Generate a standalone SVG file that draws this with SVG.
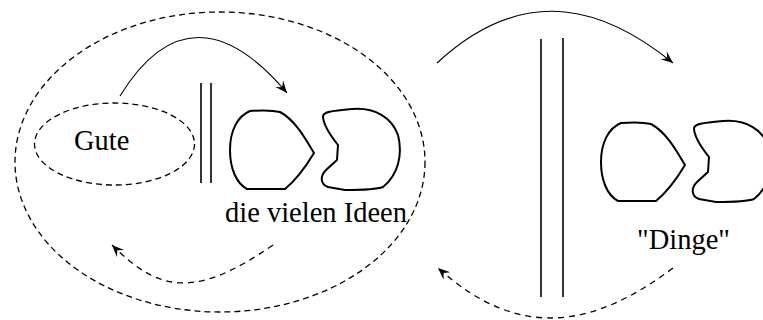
<svg xmlns="http://www.w3.org/2000/svg" width="763" height="320" viewBox="0 0 763 320">
<style>
.dash{fill:none;stroke:#000;stroke-width:1.3;stroke-dasharray:6 4}
.blob{fill:none;stroke:#000;stroke-width:2;stroke-linejoin:round}
.bar{stroke:#000;stroke-width:1.6}
.arc{fill:none;stroke:#000;stroke-width:1.1}
.darc{fill:none;stroke:#000;stroke-width:1.3;stroke-dasharray:6 5}
.lbl{font-family:"Liberation Serif","Times New Roman",serif;font-size:28.5px;fill:#000}
</style>
<defs>
<marker id="ah" markerUnits="userSpaceOnUse" markerWidth="16" markerHeight="14" refX="0" refY="0" viewBox="-14 -7 16 14" orient="auto">
<path d="M0,0 L-12,-5 L-7.5,0 L-12,5 Z" fill="#000"/>
</marker>
<g id="blobs">
<path d="M250,111 C262,110 272,110 280,112 C295,120 305,138 314,153 C305,168 296,180 285,189 L247,189 C236,183 230,168 230,150 C230,130 238,116 250,111 Z"/>
<path d="M323,116 C324,112 330,111 352,109 C375,107 392,118 398,135 C403,155 398,175 383,187 C375,190 360,190 345,190 L328,187 C320,184 320,176 326,170 L337,160 L338,145 C330,135 323,125 323,116 Z"/>
</g>
</defs>
<g id="outer">
<ellipse class="dash" cx="220" cy="162" rx="205" ry="150"/>
</g>
<g id="gute">
<ellipse class="dash" cx="114.5" cy="144" rx="80" ry="41"/>
<text class="lbl" x="74" y="150">Gute</text>
</g>
<g id="barrier-left">
<line class="bar" x1="201" y1="83" x2="201" y2="183"/>
<line class="bar" x1="211" y1="83" x2="211" y2="183"/>
</g>
<g id="ideen">
<use href="#blobs" class="blob"/>
<text class="lbl" x="225" y="222">die vielen Ideen</text>
</g>
<g id="barrier-right">
<line class="bar" x1="541" y1="39" x2="541" y2="297"/>
<line class="bar" x1="563" y1="38" x2="563" y2="297"/>
</g>
<g id="dinge">
<use href="#blobs" class="blob" transform="translate(371,12)"/>
<text class="lbl" x="637" y="249">"Dinge"</text>
</g>
<g id="connectors">
<path class="arc" d="M120,96 C177,3.5 238,35 287,93" marker-end="url(#ah)"/>
<path class="arc" d="M437,63 C528,-21 609,11 673,63" marker-end="url(#ah)"/>
<path class="darc" d="M273,245 C195,299 159,292 112,245" marker-end="url(#ah)"/>
<path class="darc" d="M673,268 C593,328 519,341 438,268" marker-end="url(#ah)"/>
</g>
</svg>
